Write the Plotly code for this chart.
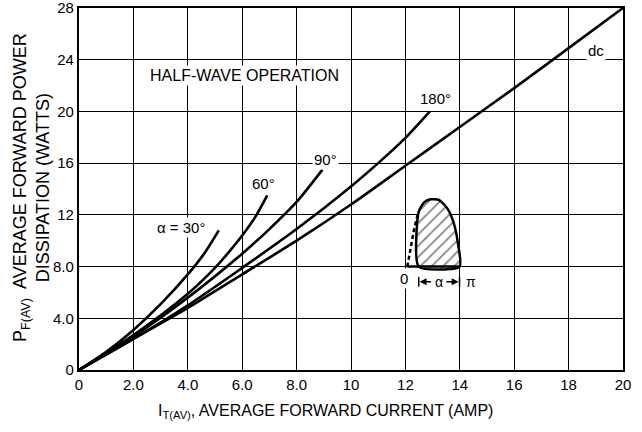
import plotly.graph_objects as go

# ---- data ----
x_ticks = [0, 2, 4, 6, 8, 10, 12, 14, 16, 18, 20]
x_ticktext = ["0", "2.0", "4.0", "6.0", "8.0", "10", "12", "14", "16", "18", "20"]
y_ticks = [0, 4, 8, 12, 16, 20, 24, 28]
y_ticktext = ["0", "4.0", "8.0", "12", "16", "20", "24", "28"]

dc_I = [0, 2, 4, 6, 8, 10, 12, 14, 16, 18, 20]
dc_P = [0, 2.4, 4.8, 7.4, 10.0, 12.8, 15.8, 18.8, 21.8, 24.9, 28.0]

a180_I = [0, 2, 4, 6, 8, 10, 11, 12, 12.9]
a180_P = [0, 2.4, 5.0, 7.9, 10.9, 14.2, 16.0, 17.95, 20.0]

a90_I = [0, 2, 4, 6, 7, 8, 8.95]
a90_P = [0, 2.6, 5.6, 9.0, 10.9, 13.0, 15.5]

a60_I = [0, 2, 4, 5, 5.5, 6, 6.5, 6.92]
a60_P = [0, 2.7, 5.9, 7.9, 9.1, 10.4, 11.9, 13.5]

a30_I = [0, 1, 2, 3, 4, 4.6, 5.14]
a30_P = [0, 1.4, 3.1, 5.1, 7.4, 9.0, 10.8]

# inset waveform sketch (in axis units)
wave_dash_I = [12.07, 12.2, 12.33, 12.45]
wave_dash_P = [8.0, 9.5, 11.0, 12.0]
wave_I = [12.49, 12.49, 12.68, 12.92, 13.23, 13.54, 13.78, 13.93, 13.99, 12.49]
wave_P = [8.0, 12.24, 12.94, 13.2, 13.15, 12.5, 11.35, 9.8, 8.0, 8.0]
wave_base_I = [12.07, 14.0]
wave_base_P = [8.0, 8.0]

TFONT = "Liberation Sans, Arial, sans-serif"

fig = go.Figure()
for xs, ys in [(dc_I, dc_P), (a180_I, a180_P), (a90_I, a90_P), (a60_I, a60_P), (a30_I, a30_P)]:
    fig.add_trace(go.Scatter(x=xs, y=ys, mode="lines",
                             line=dict(color="black", width=2.6, shape="spline", smoothing=0.8),
                             showlegend=False, hoverinfo="skip"))

fig.add_trace(go.Scatter(x=wave_I, y=wave_P, mode="lines", fill="toself", fillcolor="white",
                         fillpattern=dict(shape="/", fgcolor="black", bgcolor="white", size=8, solidity=0.2),
                         line=dict(color="black", width=2.5, shape="spline", smoothing=0.6),
                         showlegend=False, hoverinfo="skip"))
fig.add_trace(go.Scatter(x=wave_dash_I, y=wave_dash_P, mode="lines",
                         line=dict(color="black", width=2.5, dash="4px,3px"), showlegend=False, hoverinfo="skip"))
fig.add_trace(go.Scatter(x=wave_base_I, y=wave_base_P, mode="lines",
                         line=dict(color="black", width=2.5), showlegend=False, hoverinfo="skip"))
# alpha bracket end bars
fig.add_trace(go.Scatter(x=[12.49, 12.49, None, 13.99, 13.99], y=[6.45, 7.2, None, 6.45, 7.2], mode="lines",
                         line=dict(color="black", width=1.5), showlegend=False, hoverinfo="skip"))

ann = []
def t(x, y, s, size=14, bg=None):
    d = dict(x=x, y=y, xref="x", yref="y", text=s, showarrow=False,
             font=dict(family=TFONT, size=size, color="black"))
    if bg:
        d["bgcolor"] = bg
    ann.append(d)

t(6.1, 22.8, "HALF-WAVE OPERATION", 16, bg="white")
t(13.1, 21.0, "180°", 15, bg="white")
t(9.05, 16.3, "90°", 15, bg="white")
t(6.8, 14.4, "60°", 15, bg="white")
t(3.75, 11.0, "α = 30°", 15, bg="white")
t(19.0, 24.7, "dc", 15, bg="white")
t(11.95, 7.1, "0", 15, bg="white")
t(13.23, 6.83, "α", 14, bg="white")
t(14.4, 6.83, "π", 14)
# arrows for alpha bracket
ann.append(dict(x=12.52, y=6.83, ax=13.0, ay=6.83, xref="x", yref="y", axref="x", ayref="y",
                showarrow=True, arrowhead=2, arrowsize=1, arrowwidth=1.4, arrowcolor="black", text=""))
ann.append(dict(x=13.96, y=6.83, ax=13.45, ay=6.83, xref="x", yref="y", axref="x", ayref="y",
                showarrow=True, arrowhead=2, arrowsize=1, arrowwidth=1.4, arrowcolor="black", text=""))

# axis titles
ann.append(dict(x=(32 - 79) / 544, y=(370 - 188) / 362, xref="paper", yref="paper", textangle=-90,
                xanchor="center", yanchor="middle",
                text="P<sub>F(AV)</sub>  AVERAGE FORWARD POWER<br>DISSIPATION (WATTS)", showarrow=False,
                font=dict(family=TFONT, size=18, color="black")))
ann.append(dict(x=(325 - 79) / 544, y=(370 - 411) / 362, xref="paper", yref="paper",
                xanchor="center", yanchor="middle",
                text="I<sub>T(AV)</sub>, AVERAGE FORWARD CURRENT (AMP)", showarrow=False,
                font=dict(family=TFONT, size=16, color="black")))

axis_common = dict(showgrid=True, gridcolor="black", gridwidth=1.3, showline=True, linecolor="black",
                   linewidth=2.2, mirror=True, zeroline=False, ticks="", automargin=False,
                   ticklabeloverflow="allow",
                   tickfont=dict(family=TFONT, size=15, color="black"))

fig.update_layout(
    width=642, height=432,
    margin=dict(l=79, r=19, t=8, b=62),
    paper_bgcolor="white", plot_bgcolor="white",
    xaxis=dict(range=[0, 20], tickvals=x_ticks, ticktext=x_ticktext, ticklabelstandoff=0, **axis_common),
    yaxis=dict(range=[0, 28], tickvals=y_ticks, ticktext=y_ticktext, ticklabelstandoff=0, **axis_common),
    annotations=ann,
    showlegend=False,
)

fig.write_html("out.html", config={"displayModeBar": False},
               post_script="document.body.style.margin='0';")
